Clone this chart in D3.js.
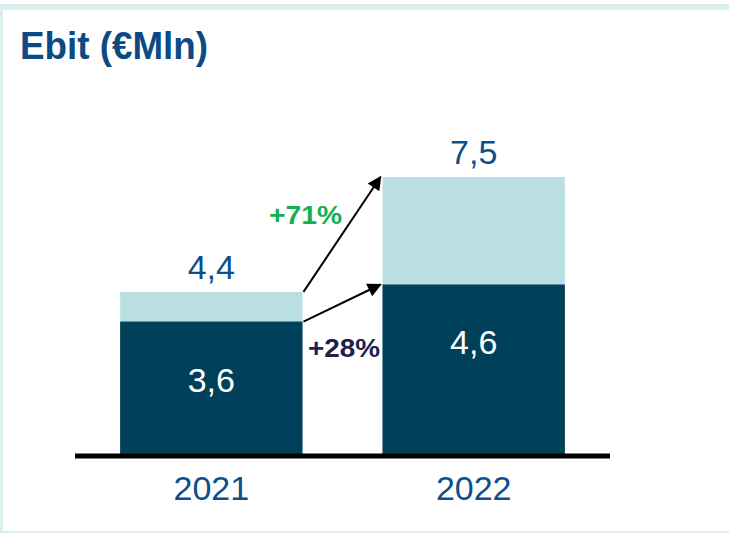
<!DOCTYPE html>
<html>
<head>
<meta charset="utf-8">
<script src="https://cdn.jsdelivr.net/npm/d3@7"></script>
<style>
  body { margin: 0; background: #fff; }
  svg { display: block; font-family: "Liberation Sans", Arial, sans-serif; }
</style>
</head>
<body>
<div id="graf"></div>
<script>
// Data
const anni = ["2021", "2022"]
const ebitBase = [3.6, 4.6]
const ebitTotale = [4.4, 7.5]
const etichetteTot = ["4,4", "7,5"]
const etichetteBase = ["3,6", "4,6"]
const crescite = ["+71%", "+28%"]

const W = 729, H = 533
const svg = d3.select("#graf").append("svg").attr("width", W).attr("height", H)

// cornice
svg.append("rect")
  .attr("x", 0).attr("y", 4).attr("width", W).attr("height", H - 4)
  .attr("fill", "#dcefef")
svg.append("rect")
  .attr("x", 3).attr("y", 10).attr("width", W).attr("height", 521)
  .attr("fill", "#fff")

svg.append("text")
  .attr("x", 20).attr("y", 59)
  .attr("font-size", 39).attr("font-weight", "bold")
  .attr("textLength", 188).attr("lengthAdjust", "spacingAndGlyphs")
  .attr("fill", "#0b4a84")
  .text("Ebit (€Mln)")

const x = d3.scaleBand().domain(anni).range([75, 610]).paddingInner(0.305).paddingOuter(0.172)
const y = d3.scaleLinear().domain([0, 7.5]).range([455, 177])

const data = anni.map((a, i) => ({ anno: a, base: ebitBase[i], tot: ebitTotale[i], lt: etichetteTot[i], lb: etichetteBase[i] }))

const g = svg.append("g")

g.selectAll("rect.tot").data(data).join("rect")
  .attr("class", "tot")
  .attr("x", d => x(d.anno)).attr("width", x.bandwidth())
  .attr("y", d => y(d.tot)).attr("height", d => y(0) - y(d.tot))
  .attr("fill", "#b9dfe3")

g.selectAll("rect.base").data(data).join("rect")
  .attr("class", "base")
  .attr("x", d => x(d.anno)).attr("width", x.bandwidth())
  .attr("y", d => y(d.base)).attr("height", d => y(0) - y(d.base))
  .attr("fill", "#01405a")

g.selectAll("text.tot").data(data).join("text")
  .attr("class", "tot")
  .attr("x", d => x(d.anno) + x.bandwidth() / 2)
  .attr("y", d => y(d.tot) - 13)
  .attr("text-anchor", "middle").attr("font-size", 34)
  .attr("fill", "#0b4f8c")
  .text(d => d.lt)

g.selectAll("text.base").data(data).join("text")
  .attr("class", "base")
  .attr("x", d => x(d.anno) + x.bandwidth() / 2)
  .attr("y", d => y(d.base) + 70)
  .attr("text-anchor", "middle").attr("font-size", 34)
  .attr("fill", "#ffffff")
  .text(d => d.lb)

// asse
svg.append("line")
  .attr("x1", 75).attr("x2", 610).attr("y1", y(0) + 1).attr("y2", y(0) + 1)
  .attr("stroke", "#000").attr("stroke-width", 5)

const xAxis = d3.axisBottom(x).tickSize(0).tickPadding(0)
svg.append("g")
  .attr("transform", `translate(0, ${y(0) + 45})`)
  .call(xAxis)
  .call(s => s.select(".domain").remove())
  .selectAll("text")
  .attr("dy", 0)
  .attr("font-size", 34).attr("fill", "#0b4f8c")
  .attr("font-family", "Liberation Sans, Arial, sans-serif")

// frecce
svg.append("defs").append("marker")
  .attr("id", "freccia").attr("viewBox", "0 0 10 10")
  .attr("refX", 9).attr("refY", 5)
  .attr("markerWidth", 18).attr("markerHeight", 14)
  .attr("markerUnits", "userSpaceOnUse")
  .attr("orient", "auto")
  .append("path").attr("d", "M0,0 L10,5 L0,10 z").attr("fill", "#000")

const x0 = x("2021") + x.bandwidth() + 1
const x1 = x("2022") - 2
const frecce = [
  { y0: y(ebitTotale[0]), y1: y(ebitTotale[1]) },
  { y0: y(ebitBase[0]), y1: y(ebitBase[1]) }
]
svg.selectAll("line.freccia").data(frecce).join("line")
  .attr("class", "freccia")
  .attr("x1", x0).attr("y1", d => d.y0)
  .attr("x2", x1).attr("y2", d => d.y1)
  .attr("stroke", "#000").attr("stroke-width", 2)
  .attr("marker-end", "url(#freccia)")

svg.append("text")
  .attr("x", 269).attr("y", 224)
  .attr("font-size", 26).attr("font-weight", "bold")
  .attr("textLength", 73).attr("lengthAdjust", "spacingAndGlyphs")
  .attr("fill", "#12b04e")
  .text(crescite[0])

svg.append("text")
  .attr("x", 308).attr("y", 357)
  .attr("font-size", 26).attr("font-weight", "bold")
  .attr("textLength", 72).attr("lengthAdjust", "spacingAndGlyphs")
  .attr("fill", "#20204f")
  .text(crescite[1])
</script>
</body>
</html>
